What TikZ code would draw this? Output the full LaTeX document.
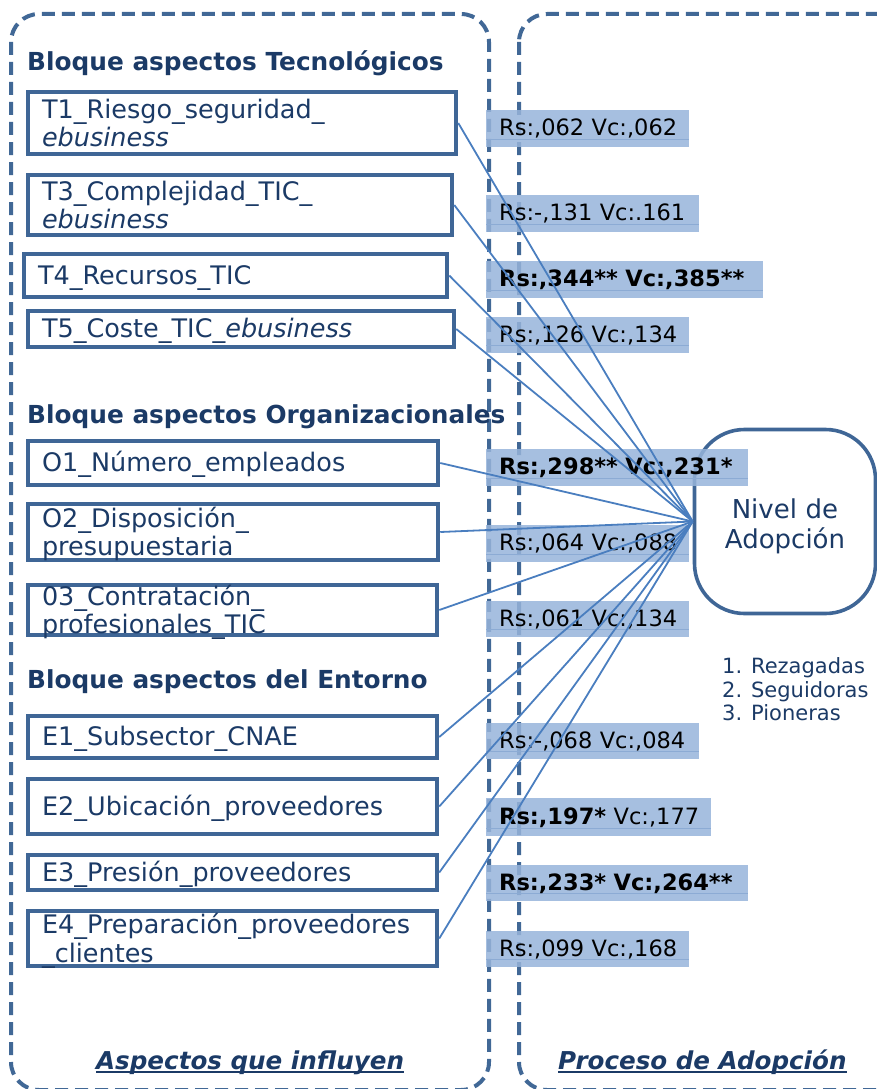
\documentclass[tikz,border=0pt]{standalone}
\usepackage{fontspec}
\setmainfont{DejaVu Sans}
\definecolor{navy}{HTML}{1B3A66}
\definecolor{boxblue}{HTML}{3F6696}
\definecolor{frameblue}{HTML}{416896}
\definecolor{linkblue}{HTML}{4A7EBF}
\definecolor{tagblue}{HTML}{97B4DA}
\definecolor{gridblue}{HTML}{8CABD4}
\tikzset{
  frame/.style={draw=frameblue, line width=4pt, dash pattern=on 13pt off 7pt, rounded corners=28pt},
  heading/.style={anchor=base west, inner sep=0pt, text=navy, font=\bfseries\fontsize{24.8}{29}\selectfont},
  boxnode/.style={draw=boxblue, line width=4.5pt, rectangle, inner xsep=14pt, inner ysep=0pt,
    align=left, text=navy, font=\fontsize{25.5}{28.5}\selectfont},
  oneline/.style={text height=20pt, text depth=2.6pt},
  twoline/.style={text height=18pt, text depth=28pt},
  tag/.style={anchor=north west, rectangle, fill=tagblue, fill opacity=0.85, text opacity=1,
    inner xsep=13pt, inner ysep=0pt, align=left, text=black, text height=16pt, text depth=2pt,
    font=\fontsize{22.5}{25}\selectfont,
    path picture={
      \foreach \gx in {515.5,544.5,...,775}{\draw[gridblue, line width=0.8pt] (\gx,0) -- (\gx,1100);}
      \draw[gridblue, line width=0.8pt] ([yshift=8pt]path picture bounding box.south west)
        -- ([yshift=8pt]path picture bounding box.south east);
    }},
  link/.style={draw=linkblue, line width=1.8pt},
  listitem/.style={anchor=base west, inner sep=0pt, text=navy, font=\fontsize{21}{24}\selectfont},
  footer/.style={anchor=base west, inner sep=0pt, text=navy, font=\bfseries\itshape\fontsize{24.6}{30}\selectfont},
}
\begin{document}
\begin{tikzpicture}[x=1pt,y=-1pt]
\useasboundingbox (0,0) rectangle (877,1089);
\clip (0,0) rectangle (877,1089);

% dashed containers
\draw[frame] (11,14) rectangle (489,1090);
\draw[frame] (519,14) rectangle (905,1090);

% block headings
\node[heading] (hT) at (27,71) {Bloque aspectos Tecnológicos};
\node[heading] (hO) at (27,423) {Bloque aspectos Organizacionales};
\node[heading] (hE) at (27,688) {Bloque aspectos del Entorno};

% factor boxes
\node[boxnode, twoline, minimum width=428pt, minimum height=62pt, text width=400pt] (t1) at (242,123) {T1\_Riesgo\_seguridad\_\\\textit{ebusiness}};
\node[boxnode, twoline, minimum width=424pt, minimum height=60pt, text width=396pt] (t3) at (240,205) {T3\_Complejidad\_TIC\_\\\textit{ebusiness}};
\node[boxnode, oneline, minimum width=423pt, minimum height=43pt, text width=395pt] (t4) at (235.5,275.5) {T4\_Recursos\_TIC};
\node[boxnode, oneline, minimum width=426pt, minimum height=36pt, text width=398pt] (t5) at (241,329) {T5\_Coste\_TIC\_\textit{ebusiness}};
\node[boxnode, oneline, minimum width=410pt, minimum height=44pt, text width=382pt] (o1) at (233,463) {O1\_Número\_empleados};
\node[boxnode, twoline, minimum width=410pt, minimum height=56pt, text width=382pt] (o2) at (233,532) {O2\_Disposición\_\\presupuestaria};
\node[boxnode, twoline, minimum width=409pt, minimum height=50pt, text width=381pt] (o3) at (232.5,610) {03\_Contratación\_\\profesionales\_TIC};
\node[boxnode, oneline, minimum width=409pt, minimum height=42pt, text width=381pt] (e1) at (232.5,737) {E1\_Subsector\_CNAE};
\node[boxnode, oneline, minimum width=409pt, minimum height=55pt, text width=381pt] (e2) at (232.5,806.5) {E2\_Ubicación\_proveedores};
\node[boxnode, oneline, minimum width=409pt, minimum height=35pt, text width=381pt] (e3) at (232.5,872.5) {E3\_Presión\_proveedores};
\node[boxnode, twoline, minimum width=409pt, minimum height=55pt, text width=381pt] (e4) at (232.5,938.5) {E4\_Preparación\_proveedores\\\_clientes};

% target node
\node[draw=boxblue, line width=3.6pt, rounded corners=50pt, minimum width=181pt, minimum height=184pt,
  inner sep=0pt, text width=170pt, align=center, text=navy, text height=18pt, text depth=25pt,
  font=\fontsize{26}{30}\selectfont] (nivel) at (785,521.5) {Nivel de\\Adopción};

% coefficient tags (single line, never wrapped)
\node[tag, minimum width=203pt, minimum height=37pt, text width=177pt] (r1) at (486,110) {\mbox{Rs:,062 Vc:,062}};
\node[tag, minimum width=213pt, minimum height=37pt, text width=187pt] (r3) at (486,195) {\mbox{Rs:-,131 Vc:.161}};
\node[tag, minimum width=277pt, minimum height=37pt, text width=251pt] (r4) at (486,261) {\mbox{\textbf{Rs:,344** Vc:,385**}}};
\node[tag, minimum width=203pt, minimum height=36pt, text width=177pt] (r5) at (486,317) {\mbox{Rs:,126 Vc:,134}};
\node[tag, minimum width=262pt, minimum height=37pt, text width=236pt] (ro1) at (486,449) {\mbox{\textbf{Rs:,298** Vc:,231*}}};
\node[tag, minimum width=203pt, minimum height=37pt, text width=177pt] (ro2) at (486,525) {\mbox{Rs:,064 Vc:,088}};
\node[tag, minimum width=203pt, minimum height=36pt, text width=177pt] (ro3) at (486,601) {\mbox{Rs:,061 Vc:,134}};
\node[tag, minimum width=213pt, minimum height=36pt, text width=187pt] (re1) at (486,723) {\mbox{Rs:-,068 Vc:,084}};
\node[tag, minimum width=225pt, minimum height=38pt, text width=199pt] (re2) at (486,798) {\mbox{\textbf{Rs:,197*} Vc:,177}};
\node[tag, minimum width=262pt, minimum height=36pt, text width=236pt] (re3) at (486,865) {\mbox{\textbf{Rs:,233* Vc:,264**}}};
\node[tag, minimum width=203pt, minimum height=36pt, text width=177pt] (re4) at (486,931) {\mbox{Rs:,099 Vc:,168}};

% connectors
\foreach \src in {t1,t3,t4,t5,o1,o2,o3,e1,e2,e3,e4}
  \draw[link] (\src.east) -- (nivel.west);

% adoption categories
\node[listitem] (c1) at (722,673) {1. Rezagadas};
\node[listitem] (c2) at (722,697) {2. Seguidoras};
\node[listitem] (c3) at (722,720) {3. Pioneras};

% column captions
\node[footer] (fl) at (96,1069) {Aspectos que influyen};
\node[footer] (fr) at (558,1069) {Proceso de Adopción};
\draw[navy, line width=2.2pt] ([yshift=-3pt]fl.base west) -- ([yshift=-3pt]fl.base east);
\draw[navy, line width=2.2pt] ([yshift=-3pt]fr.base west) -- ([yshift=-3pt]fr.base east);
\end{tikzpicture}
\end{document}
